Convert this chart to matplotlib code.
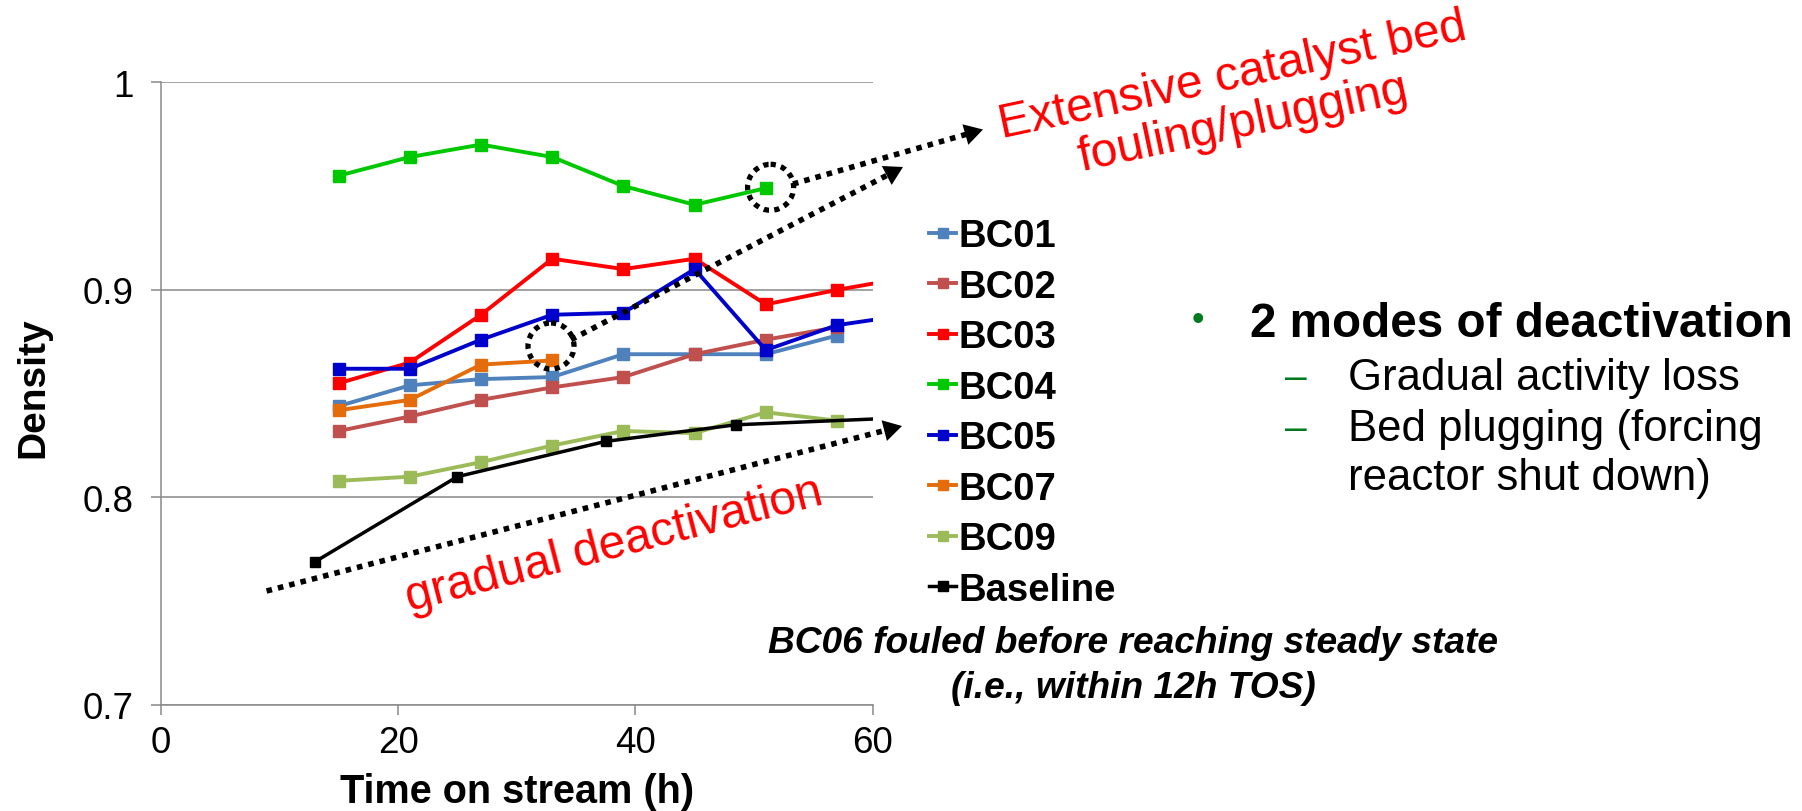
import matplotlib
matplotlib.use("Agg")
import matplotlib.pyplot as plt
from matplotlib.patches import Circle
import numpy as np

plt.rcParams['font.family'] = ['Liberation Sans', 'DejaVu Sans']

# ---------------- data ----------------
x_bc = [15, 21, 27, 33, 39, 45, 51, 57]
x_bc_ext = [15, 21, 27, 33, 39, 45, 51, 57, 63]
bc01 = [0.844, 0.854, 0.857, 0.858, 0.869, 0.869, 0.869, 0.878]
bc02 = [0.832, 0.839, 0.847, 0.853, 0.858, 0.869, 0.876, 0.882]
bc03 = [0.855, 0.865, 0.888, 0.915, 0.910, 0.915, 0.893, 0.900, 0.906]
bc04 = [0.955, 0.964, 0.970, 0.964, 0.950, 0.941, 0.949]
bc05 = [0.862, 0.862, 0.876, 0.888, 0.889, 0.910, 0.871, 0.883, 0.888]
bc07 = [0.842, 0.847, 0.864, 0.866]
bc09 = [0.808, 0.810, 0.817, 0.825, 0.832, 0.831, 0.841, 0.837]
x_base = [13, 25, 37.5, 48.5, 61]
baseline = [0.769, 0.810, 0.827, 0.835, 0.838]

series = [
    ("BC01", x_bc, bc01, "#4F81BD"),
    ("BC02", x_bc, bc02, "#C0504D"),
    ("BC03", x_bc_ext, bc03, "#FF0000"),
    ("BC04", x_bc[:7], bc04, "#00C800"),
    ("BC05", x_bc_ext, bc05, "#0000CC"),
    ("BC07", x_bc[:4], bc07, "#E46C0A"),
    ("BC09", x_bc, bc09, "#9BBB59"),
    ("Baseline", x_base, baseline, "#000000"),
]

x_ticks = [0, 20, 40, 60]
y_ticks = [0.7, 0.8, 0.9, 1.0]
y_ticklabels = ["0.7", "0.8", "0.9", "1"]

W, H = 1802, 812
fig = plt.figure(figsize=(W / 100, H / 100), dpi=100)
x0, x1, ytop, ybot = 160.7, 872.6, 83.3, 706.0
ax = fig.add_axes([x0 / W, 1 - ybot / H, (x1 - x0) / W, (ybot - ytop) / H])

grey = "#898989"
for name, xs, ys, col in series:
    if name == "Baseline":
        ms, lw = 7, 2.5
    else:
        ms, lw = 8.5, 2.8
    ax.plot(xs, ys, color=col, lw=lw, marker="s", ms=ms, mec=col, mfc=col,
            label=name, solid_joinstyle="miter")

ax.set_xlim(0, 60)
ax.set_ylim(0.7, 1.0)
ax.set_xticks(x_ticks)
ax.set_yticks(y_ticks)
ax.set_yticklabels(y_ticklabels)
ax.grid(axis="y", color=grey, lw=1.1)
ax.set_axisbelow(True)
for s in ["top", "right"]:
    ax.spines[s].set_visible(False)
for s in ["left", "bottom"]:
    ax.spines[s].set_color(grey)
    ax.spines[s].set_linewidth(1.1)
ax.tick_params(axis="both", color=grey, width=1.1, length=7.2, direction="out",
               labelsize=26.5)
ax.tick_params(axis="y", pad=12)
ax.tick_params(axis="x", pad=7)
ax.set_xlabel("Time on stream (h)", fontsize=28.5, fontweight="bold")
ax.set_ylabel("Density", fontsize=28, fontweight="bold")
ax.xaxis.label.set_va("baseline")
ax.xaxis.set_label_coords(0.5 * (x0 + x1) / W, 1 - 803 / H, transform=fig.transFigure)
ax.yaxis.set_label_coords(33 / W, 1 - 388 / H, transform=fig.transFigure)
ax.yaxis.label.set_va("center")

leg = ax.legend(loc="upper left", bbox_to_anchor=(929 / W, 1 - 219 / H),
                bbox_transform=fig.transFigure, frameon=False,
                prop=dict(family="Liberation Sans", weight="bold", size=27.5),
                handlelength=0.72, handletextpad=0.06, labelspacing=0.38,
                borderpad=0, borderaxespad=0, numpoints=1)
for h in leg.legend_handles:
    h.set_markersize(7.5)

# ---------------- overlay annotations (figure pixels, y down) ----------------
ov = fig.add_axes([0, 0, 1, 1], zorder=5)
ov.set_xlim(0, W)
ov.set_ylim(H, 0)
ov.axis("off")
ov.patch.set_alpha(0)


def dotted_arrow(xa, ya, xb, yb):
    d = np.array([xb - xa, yb - ya], dtype=float)
    L = np.hypot(*d)
    u = d / L
    hl = 17.0
    ex, ey = xb - u[0] * hl, yb - u[1] * hl
    ov.plot([xa, ex], [ya, ey], color="k", lw=4.0, ls=(0, (1, 1.1)),
            dash_capstyle="butt")
    ov.annotate("", xy=(xb, yb), xytext=(ex - u[0] * 2, ey - u[1] * 2),
                arrowprops=dict(arrowstyle="-|>,head_length=0.55,head_width=0.32",
                                color="k", lw=0, mutation_scale=24,
                                shrinkA=0, shrinkB=0))


dotted_arrow(266.6, 592.0, 902.0, 427.0)
dotted_arrow(571.0, 340.7, 903.0, 168.0)
dotted_arrow(793.0, 185.0, 983.0, 130.5)

for cx, cy in [(770.6, 188.3), (551.0, 347.0)]:
    ov.add_patch(Circle((cx, cy), 23, fill=False, ec="k", lw=3.8,
                        ls=(0, (1, 1.0))))

ov.text(1238, 100, "Extensive catalyst bed\nfouling/plugging", color="#FF0000",
        fontsize=34.5, rotation=12, rotation_mode="anchor", ha="center",
        va="center", multialignment="center", linespacing=1.12)
ov.text(614, 545, "gradual deactivation", color="#FF0000", fontsize=34.5,
        rotation=14.5, rotation_mode="anchor", ha="center", va="center")

green = "#007A1E"
ov.text(1197.5, 321, "\u2022", color=green, fontsize=26, ha="center", va="center")
ov.text(1249.5, 337, "2 modes of deactivation", fontsize=34.3, fontweight="bold",
        ha="left", va="baseline")
for yy, txt in [(390, "Gradual activity loss"), (440.7, "Bed plugging (forcing")]:
    ov.text(1296, yy - 11, "\u2013", color=green, fontsize=28, ha="center",
            va="center")
    ov.text(1347.6, yy, txt, fontsize=31.5, ha="left", va="baseline")
ov.text(1347.6, 490, "reactor shut down)", fontsize=31.5, ha="left", va="baseline")

ov.text(1133, 652.7, "BC06 fouled before reaching steady state", fontsize=26.7,
        fontweight="bold", fontstyle="italic", ha="center", va="baseline")
ov.text(1133, 698, "(i.e., within 12h TOS)", fontsize=26.7,
        fontweight="bold", fontstyle="italic", ha="center", va="baseline")

fig.savefig("out.png", dpi=100)
